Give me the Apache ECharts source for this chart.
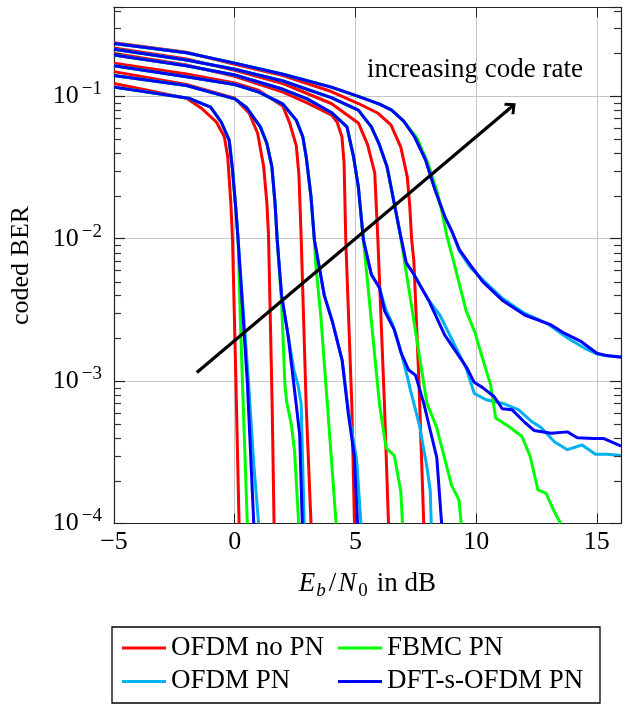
<!DOCTYPE html>
<html>
<head>
<meta charset="utf-8">
<script src="https://cdn.jsdelivr.net/npm/echarts@6.0.0/dist/echarts.min.js"></script>
<style>
  html, body { margin: 0; padding: 0; background: #ffffff; }
  #chart { width: 624px; height: 704px; }
</style>
</head>
<body>
<div id="chart"></div>
<script>
// Coded BER versus Eb/N0 for six code rates (lowest rate first).
// Every point is [Eb/N0 in dB, coded BER].

const ofdmNoPN = [
  [[-5,0.123],[-2,0.097],[-1.36,0.082],[-0.76,0.066],[-0.43,0.052],[-0.29,0.0377],[-0.16,0.0178],[-0.09,0.0098],[0.05,0.001],[0.18,0.0001]],
  [[-5,0.149],[-2,0.121],[0,0.097],[0.6,0.076],[0.95,0.055],[1.2,0.032],[1.33,0.018],[1.4,0.0106],[1.55,0.0007],[1.63,0.0001]],
  [[-5,0.171],[-2,0.1436],[0,0.124],[1,0.11],[2,0.085],[2.28,0.0646],[2.55,0.045],[2.66,0.028],[2.75,0.0105],[2.96,0.00068],[3.16,0.0001]],
  [[-5,0.2],[-2,0.166],[0,0.138],[2,0.107],[3,0.09],[4,0.074],[4.24,0.066],[4.44,0.052],[4.53,0.034],[4.6,0.0098],[4.85,0.00068],[4.96,0.0001]],
  [[-5,0.218],[-2,0.183],[0,0.152],[2,0.123],[4,0.089],[5.12,0.065],[5.5,0.046],[5.8,0.029],[5.93,0.0098],[6.2,0.0007],[6.37,0.0001]],
  [[-5,0.238],[-2,0.204],[0,0.168],[2,0.14],[4,0.108],[5.12,0.089],[5.94,0.076],[6.47,0.063],[6.88,0.044],[7.15,0.027],[7.25,0.017],[7.33,0.0098],[7.42,0.007],[7.63,0.001],[7.83,0.0001]]
];

const ofdmPN = [
  [[-5,0.116],[-1.91,0.097],[-1,0.084],[-0.56,0.066],[-0.23,0.0493],[-0.09,0.0303],[0.05,0.0159],[0.14,0.0098],[0.57,0.001],[0.79,0.00026],[0.99,0.0001]],
  [[-5,0.14],[-2,0.119],[0,0.096],[0.5,0.083],[1.06,0.061],[1.33,0.0468],[1.54,0.032],[1.67,0.0178],[1.76,0.0098],[1.94,0.004],[2.21,0.0021],[2.45,0.0012],[2.62,0.00094],[2.75,0.0007],[2.88,0.0001]],
  [[-5,0.164],[-2,0.137],[0,0.121],[1,0.107],[2,0.088],[2.55,0.068],[2.82,0.052],[2.96,0.0377],[3.16,0.0197],[3.3,0.0098],[3.51,0.0062],[3.71,0.004],[4.05,0.0026],[4.45,0.0014],[4.72,0.0006],[5.05,0.00028],[5.23,0.0001]],
  [[-5,0.195],[-2,0.164],[0,0.141],[2,0.112],[3,0.096],[4,0.077],[4.65,0.061],[4.92,0.0377],[5.12,0.0232],[5.33,0.0098],[5.66,0.0056],[6,0.0045],[6.25,0.0032],[6.54,0.0025],[6.85,0.0017],[7.15,0.00107],[7.29,0.00085],[7.65,0.00049],[7.96,0.00025],[8.1,0.00017],[8.14,0.0001]],
  [[-5,0.214],[-2,0.18],[0,0.155],[2,0.128],[4,0.098],[5.12,0.08],[5.66,0.061],[5.97,0.0468],[6.31,0.032],[6.58,0.0187],[6.85,0.0109],[7.1,0.0068],[7.4,0.0057],[8.03,0.0037],[8.5,0.0029],[9.59,0.00123],[9.92,0.00082],[10.41,0.00074],[11.08,0.0007],[11.75,0.00063],[12.3,0.00052],[12.7,0.00047],[13.24,0.000375],[13.78,0.00033],[14.39,0.000356],[14.94,0.000306],[15.41,0.000306],[16,0.0003]],
  [[-5,0.235],[-2,0.202],[0,0.171],[2,0.143],[4,0.116],[5.12,0.1],[6,0.088],[6.5,0.08],[7,0.067],[7.45,0.052],[7.9,0.036],[8.3,0.022],[8.7,0.0143],[9,0.0112],[9.3,0.0082],[9.75,0.0063],[10.3,0.0051],[11.1,0.0038],[12,0.003],[13,0.0025],[13.8,0.002],[14.5,0.0017],[15,0.00155],[15.5,0.0015],[16,0.00148]]
];

const fbmcPN = [
  [[-5,0.116],[-1.91,0.097],[-1,0.084],[-0.56,0.066],[-0.23,0.0493],[-0.09,0.0303],[0.05,0.0159],[0.14,0.0098],[0.23,0.0028],[0.32,0.001],[0.52,0.0001]],
  [[-5,0.14],[-2,0.119],[0,0.096],[0.5,0.083],[1.06,0.061],[1.33,0.0468],[1.54,0.032],[1.67,0.0178],[1.76,0.0098],[1.94,0.0036],[2.08,0.00094],[2.15,0.00072],[2.35,0.00049],[2.48,0.00032],[2.65,0.0001]],
  [[-5,0.164],[-2,0.137],[0,0.121],[1,0.107],[2,0.088],[2.55,0.068],[2.82,0.052],[2.96,0.0377],[3.16,0.0197],[3.3,0.0098],[3.36,0.0065],[3.57,0.0028],[3.84,0.00068],[4.2,0.0001]],
  [[-5,0.195],[-2,0.164],[0,0.141],[2,0.112],[3,0.096],[4,0.077],[4.65,0.061],[4.92,0.0377],[5.12,0.0232],[5.33,0.0098],[6,0.00068],[6.27,0.00034],[6.61,0.0003],[6.88,0.000167],[6.95,0.0001]],
  [[-5,0.214],[-2,0.18],[0,0.155],[2,0.128],[4,0.098],[5.12,0.08],[5.66,0.061],[5.97,0.0468],[6.31,0.032],[6.58,0.0187],[6.85,0.0109],[7.96,0.0007],[8.37,0.00047],[8.98,0.000186],[9.29,0.000146],[9.38,0.0001]],
  [[-5,0.235],[-2,0.202],[0,0.171],[2,0.143],[4,0.116],[5.12,0.1],[6,0.088],[6.5,0.08],[7,0.067],[7.55,0.051],[8,0.034],[8.4,0.021],[8.6,0.015],[8.78,0.0106],[9.05,0.0071],[9.59,0.0031],[9.95,0.0022],[10.2,0.00157],[10.6,0.00094],[10.81,0.00055],[11.35,0.00048],[11.89,0.00041],[12.23,0.0003],[12.56,0.000172],[12.9,0.000163],[13.17,0.000128],[13.5,0.0001]]
];

const dftsOfdmPN = [
  [[-5,0.116],[-1.91,0.097],[-1,0.084],[-0.56,0.066],[-0.23,0.0493],[-0.09,0.0303],[0.05,0.0159],[0.14,0.0098],[0.52,0.001],[0.79,0.0001]],
  [[-5,0.14],[-2,0.119],[0,0.096],[0.5,0.083],[1.06,0.061],[1.33,0.0468],[1.54,0.032],[1.67,0.0178],[1.76,0.0098],[1.94,0.004],[2.21,0.0021],[2.55,0.00068],[2.69,0.00042],[2.8,0.0001]],
  [[-5,0.164],[-2,0.137],[0,0.121],[1,0.107],[2,0.088],[2.55,0.068],[2.82,0.052],[2.96,0.0377],[3.16,0.0197],[3.3,0.0098],[3.51,0.0062],[3.71,0.004],[4.05,0.0026],[4.45,0.0014],[4.7,0.0006],[4.95,0.0003],[5.09,0.0001]],
  [[-5,0.195],[-2,0.164],[0,0.141],[2,0.112],[3,0.096],[4,0.077],[4.65,0.061],[4.92,0.0377],[5.12,0.0232],[5.33,0.0098],[5.66,0.0056],[6,0.0045],[6.21,0.0031],[6.61,0.0023],[6.88,0.0016],[7.2,0.0012],[7.49,0.0011],[7.83,0.0007],[8.1,0.00045],[8.37,0.00029],[8.57,0.0001]],
  [[-5,0.214],[-2,0.18],[0,0.155],[2,0.128],[4,0.098],[5.12,0.08],[5.66,0.061],[5.97,0.0468],[6.31,0.032],[6.58,0.0187],[6.85,0.0109],[7.1,0.0068],[7.4,0.0057],[8.03,0.0037],[8.7,0.0021],[9.59,0.00126],[9.92,0.00098],[10.27,0.0009],[10.74,0.00078],[11.08,0.00064],[11.48,0.00063],[12.03,0.00051],[12.4,0.00045],[13.11,0.00043],[13.78,0.00044],[14.19,0.0004],[14.87,0.000396],[15.27,0.000396],[15.84,0.00036],[16,0.00035]],
  [[-5,0.235],[-2,0.202],[0,0.171],[2,0.143],[4,0.116],[5.12,0.1],[6,0.088],[6.5,0.08],[7,0.067],[7.45,0.052],[7.9,0.036],[8.3,0.022],[8.7,0.0143],[9,0.0112],[9.32,0.0083],[9.86,0.0062],[10.27,0.005],[11.08,0.0037],[12.03,0.0029],[13.11,0.00248],[13.65,0.00217],[14.32,0.00191],[15,0.00157],[15.41,0.00151],[16,0.00147]]
];

// Axis ticks and their labels
const xTicks = [-5, 0, 5, 10, 15];
const xTickLabels = ['\u22125', '0', '5', '10', '15'];
const yDecades = [-4, -3, -2, -1];            // exponents of the labelled decades
const yTickLabels = ['\u22124', '\u22123', '\u22122', '\u22121'];
const xRange = [-5, 16];
const berRange = [1e-4, 0.4217];

// Annotation arrow in data coordinates: [Eb/N0, BER]
const arrowFrom = [-1.57, 0.00115];
const arrowTo = [11.4, 0.0825];

const legendLeftColumn = ['OFDM no PN', 'OFDM PN'];
const legendRightColumn = ['FBMC PN', 'DFT-s-OFDM PN'];

const FONT = '"Liberation Serif", "Times New Roman", serif';
const AXIS_COLOR = '#222222';
const GRID_COLOR = '#c6c6c6';

const yMin = Math.log10(berRange[0]);
const yMax = Math.log10(berRange[1]);

// minor ticks at 2..9 x 10^k, in exponent units
const yMinor = [];
for (let k = -4; k <= -1; k++) {
  for (let m = 2; m <= 9; m++) {
    const v = k + Math.log10(m);
    if (v < yMax) yMinor.push(v);
  }
}

const toExponent = pts => pts.map(p => [p[0], Math.log10(p[1])]);

const groups = [
  { name: 'OFDM no PN', color: '#ff0000', curves: ofdmNoPN },
  { name: 'OFDM PN', color: '#00b0f0', curves: ofdmPN },
  { name: 'FBMC PN', color: '#00ff00', curves: fbmcPN },
  { name: 'DFT-s-OFDM PN', color: '#0000ff', curves: dftsOfdmPN }
];

const series = [];
groups.forEach(g => {
  g.curves.forEach(c => {
    series.push({
      type: 'line',
      name: g.name,
      data: toExponent(c),
      symbol: 'none',
      showSymbol: false,
      smooth: false,
      silent: true,
      animation: false,
      lineStyle: { color: g.color, width: 3 },
      itemStyle: { color: g.color },
      emphasis: { disabled: true }
    });
  });
});

// open arrow head with a short stem, pointing along the line
const HEAD = 'path://M0,0 L7.5,7.5 L5.5,9.5 L1.4,5.4 L1.4,14 L-1.4,14 L-1.4,5.4 L-5.5,9.5 L-7.5,7.5 Z';
series.push({
  type: 'line',
  data: [],
  silent: true,
  animation: false,
  markLine: {
    silent: true,
    animation: false,
    symbol: ['none', HEAD],
    symbolSize: 15,
    label: { show: false },
    lineStyle: { color: '#000000', width: 3.2, type: 'solid' },
    emphasis: { disabled: true },
    data: [[
      { coord: [arrowFrom[0], Math.log10(arrowFrom[1])] },
      { coord: [arrowTo[0], Math.log10(arrowTo[1])] }
    ]]
  }
});

const baseText = { fontFamily: FONT, fontSize: 26, color: '#000' };
const legendText = { fontFamily: FONT, fontSize: 27, color: '#000', lineHeight: 30 };

function yLabel(v) {
  const i = yDecades.findIndex(d => Math.abs(d - v) < 1e-6);
  return i < 0 ? '' : '{b|10}{s|' + yTickLabels[i] + '}';
}
function xLabel(v) {
  const i = xTicks.findIndex(t => Math.abs(t - v) < 1e-6);
  return i < 0 ? '' : xTickLabels[i];
}

const hiddenAxisParts = {
  axisLabel: { show: false },
  splitLine: { show: false }
};

const option = {
  backgroundColor: '#ffffff',
  animation: false,
  grid: { left: 110.7, top: 7.3, width: 517.2, height: 516.2, containLabel: false },
  legend: [
    {
      orient: 'vertical', left: 122, top: 633, padding: 0,
      itemWidth: 44, itemHeight: 3, itemGap: 3.4, icon: 'rect',
      selectedMode: false, data: legendLeftColumn, textStyle: legendText
    },
    {
      orient: 'vertical', left: 338, top: 633, padding: 0,
      itemWidth: 44, itemHeight: 3, itemGap: 3.4, icon: 'rect',
      selectedMode: false, data: legendRightColumn, textStyle: legendText
    }
  ],
  xAxis: [
    {
      type: 'value', position: 'bottom', min: xRange[0], max: xRange[1], interval: 5,
      axisLine: { show: true, onZero: false, lineStyle: { color: AXIS_COLOR, width: 1.2 } },
      axisTick: { show: true, inside: true, length: 10, lineStyle: { color: AXIS_COLOR, width: 1 } },
      axisLabel: Object.assign({ margin: 6, formatter: xLabel }, baseText),
      splitLine: { show: true, lineStyle: { color: GRID_COLOR, width: 1 } },
      name: '{e|E}{sb|b}{sl|/}{n|N}{s0|0}{t|in dB}',
      nameLocation: 'middle',
      nameGap: 47,
      nameTextStyle: {
        rich: {
          e: { fontFamily: FONT, fontSize: 27, fontStyle: 'italic', color: '#000', lineHeight: 27, padding: [0, 1, 0, 0] },
          sb: { fontFamily: FONT, fontSize: 19, fontStyle: 'italic', color: '#000', lineHeight: 19, padding: [14, 2, 0, 0] },
          sl: { fontFamily: FONT, fontSize: 27, color: '#000', lineHeight: 27, padding: [0, 2, 0, 1] },
          n: { fontFamily: FONT, fontSize: 27, fontStyle: 'italic', color: '#000', lineHeight: 27, padding: [0, 2, 0, 0] },
          s0: { fontFamily: FONT, fontSize: 19, color: '#000', lineHeight: 19, padding: [14, 0, 0, 0] },
          t: { fontFamily: FONT, fontSize: 27, color: '#000', lineHeight: 27, padding: [0, 0, 0, 9] }
        }
      }
    },
    Object.assign({
      type: 'value', position: 'top', min: xRange[0], max: xRange[1], interval: 5,
      axisLine: { show: true, onZero: false, lineStyle: { color: AXIS_COLOR, width: 1.2 } },
      axisTick: { show: true, inside: true, length: 10, lineStyle: { color: AXIS_COLOR, width: 1 } }
    }, hiddenAxisParts)
  ],
  yAxis: [
    {
      type: 'value', position: 'left', min: yMin, max: yMax, interval: 1,
      axisLine: { show: true, onZero: false, lineStyle: { color: AXIS_COLOR, width: 1.2 } },
      axisTick: { show: true, inside: true, length: 11, lineStyle: { color: AXIS_COLOR, width: 1.2 } },
      axisLabel: {
        margin: 12,
        formatter: yLabel,
        rich: {
          b: { fontFamily: FONT, fontSize: 26, color: '#000', lineHeight: 26 },
          s: { fontFamily: FONT, fontSize: 19, color: '#000', lineHeight: 19, padding: [0, 0, 14, 3] }
        }
      },
      splitLine: { show: true, lineStyle: { color: GRID_COLOR, width: 1 } },
      name: 'coded BER',
      nameLocation: 'middle',
      nameRotate: 90,
      nameGap: 80,
      nameTextStyle: baseText
    },
    Object.assign({
      type: 'value', position: 'right', min: yMin, max: yMax, interval: 1,
      axisLine: { show: true, onZero: false, lineStyle: { color: AXIS_COLOR, width: 1.2 } },
      axisTick: { show: true, inside: true, length: 11, lineStyle: { color: AXIS_COLOR, width: 1.2 } }
    }, hiddenAxisParts)
  ],
  graphic: [
    {
      type: 'text', x: 475, y: 70, silent: true,
      style: { text: 'increasing code rate', font: '27px "Liberation Serif"', fill: '#000', textAlign: 'center', textVerticalAlign: 'middle' }
    },
    {
      type: 'rect', silent: true, z: 10,
      shape: { x: 112, y: 627, width: 488, height: 76 },
      style: { fill: 'none', stroke: '#000', lineWidth: 1.3 }
    }
  ],
  series: series
};

const chart = echarts.init(document.getElementById('chart'), null, { renderer: 'canvas', width: 624, height: 704 });
chart.setOption(option);

// Minor log ticks (2..9 x 10^k) on the left and right frame, placed through the y scale
const minorTickEls = [];
yMinor.forEach(v => {
  const pl = chart.convertToPixel({ xAxisIndex: 0, yAxisIndex: 0 }, [xRange[0], v]);
  const pr = chart.convertToPixel({ xAxisIndex: 0, yAxisIndex: 0 }, [xRange[1], v]);
  const y = Math.round(pl[1]) + 0.5;
  const st = { stroke: '#333333', lineWidth: 1.2 };
  minorTickEls.push({ type: 'line', silent: true, z: 20, shape: { x1: pl[0], y1: y, x2: pl[0] + 7, y2: y }, style: st });
  minorTickEls.push({ type: 'line', silent: true, z: 20, shape: { x1: pr[0] - 7, y1: y, x2: pr[0], y2: y }, style: st });
});
chart.setOption({ graphic: option.graphic.concat(minorTickEls) });
</script>
</body>
</html>
